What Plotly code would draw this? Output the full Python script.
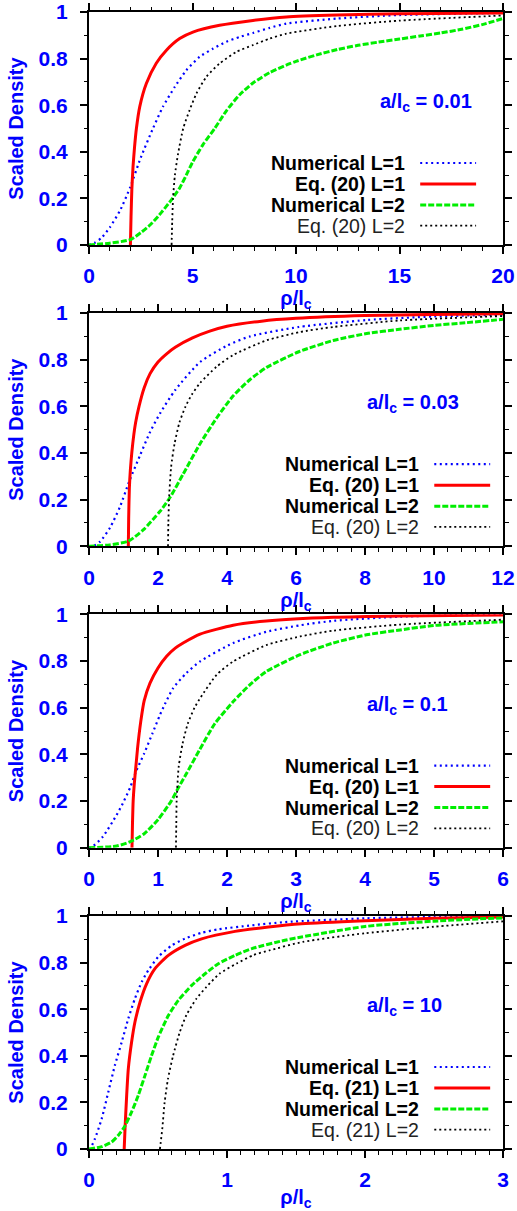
import plotly.graph_objects as go

# ---------------- data ----------------
panel_labels = ["a/l<sub>c</sub> = 0.01", "a/l<sub>c</sub> = 0.03", "a/l<sub>c</sub> = 0.1", "a/l<sub>c</sub> = 10"]
eq_names = ["Eq. (20)", "Eq. (20)", "Eq. (20)", "Eq. (21)"]
x_ranges = [[0, 20], [0, 12], [0, 6], [0, 3]]
x_dticks = [5, 2, 1, 1]
x_minor = [1, 0.4, 0.2, 0.1]

# Panel 1  (a/lc = 0.01)
p1_num1_x = [0, 0.28, 0.6, 1.0, 1.5, 2.0, 2.5, 3.09, 3.57, 4.14, 4.7, 5.35, 6.0, 6.63, 7.28, 7.92, 8.73, 9.53, 12, 15, 20]
p1_num1_y = [0, 0.01, 0.03, 0.075, 0.148, 0.25, 0.375, 0.5, 0.593, 0.678, 0.75, 0.808, 0.843, 0.872, 0.893, 0.91, 0.932, 0.95, 0.972, 0.987, 0.996]
p1_eq1_x = [2.0, 2.03, 2.07, 2.13, 2.2, 2.29, 2.45, 2.77, 3.25, 3.74, 4.38, 5.02, 6.31, 7.92, 9.53, 12, 15, 20]
p1_eq1_y = [0, 0.12, 0.24, 0.34, 0.42, 0.5, 0.593, 0.693, 0.78, 0.836, 0.886, 0.914, 0.943, 0.964, 0.979, 0.987, 0.992, 0.996]
p1_num2_x = [0, 1, 2, 2.52, 3, 3.5, 4, 4.38, 4.7, 5.0, 5.5, 6.07, 6.63, 7.28, 7.92, 8.73, 9.53, 10, 11, 12, 13, 14, 15, 16, 17, 18, 19, 20]
p1_num2_y = [0, 0.008, 0.023, 0.054, 0.09, 0.14, 0.196, 0.245, 0.3, 0.355, 0.43, 0.5, 0.575, 0.645, 0.695, 0.74, 0.772, 0.788, 0.816, 0.839, 0.857, 0.871, 0.884, 0.897, 0.91, 0.926, 0.946, 0.972]
p1_eq2_x = [3.99, 4.02, 4.06, 4.15, 4.3, 4.55, 4.86, 5.19, 5.67, 6.31, 7.12, 7.92, 8.73, 9.53, 12, 15, 20]
p1_eq2_y = [0, 0.1, 0.2, 0.3, 0.39, 0.5, 0.579, 0.65, 0.722, 0.779, 0.829, 0.858, 0.886, 0.907, 0.94, 0.963, 0.985]

# Panel 2  (a/lc = 0.03)
p2_num1_x = [0, 0.12, 0.32, 0.61, 0.9, 1.17, 1.48, 1.77, 2.06, 2.5, 3.22, 4, 4.67, 6.08, 8.05, 10, 12]
p2_num1_y = [0, 0.0, 0.02, 0.08, 0.17, 0.28, 0.39, 0.49, 0.57, 0.67, 0.79, 0.86, 0.9, 0.94, 0.97, 0.985, 0.993]
p2_eq1_x = [1.14, 1.15, 1.17, 1.2, 1.24, 1.3, 1.35, 1.45, 1.6, 1.77, 2.0, 2.25, 2.5, 3.0, 3.5, 4.0, 5.0, 6.0, 8.0, 10, 12]
p2_eq1_y = [0, 0.12, 0.25, 0.33, 0.4, 0.48, 0.53, 0.6, 0.68, 0.74, 0.79, 0.825, 0.853, 0.893, 0.922, 0.943, 0.965, 0.977, 0.989, 0.994, 0.997]
p2_num2_x = [0, 0.6, 1.14, 1.57, 2.06, 2.35, 2.73, 3.22, 3.7, 4.18, 4.67, 5.15, 6.1, 7.08, 8.05, 9.0, 10.0, 10.9, 12]
p2_num2_y = [0, 0.006, 0.022, 0.07, 0.15, 0.21, 0.31, 0.44, 0.55, 0.645, 0.715, 0.767, 0.835, 0.882, 0.912, 0.93, 0.947, 0.958, 0.973]
p2_eq2_x = [2.29, 2.3, 2.32, 2.38, 2.48, 2.62, 2.8, 2.98, 3.22, 3.7, 4.18, 5.15, 6.1, 7.08, 9.0, 12]
p2_eq2_y = [0, 0.1, 0.2, 0.34, 0.44, 0.53, 0.6, 0.65, 0.7, 0.77, 0.82, 0.883, 0.918, 0.94, 0.968, 0.987]

# Panel 3  (a/lc = 0.1)
p3_num1_x = [0, 0.03, 0.2, 0.4, 0.49, 0.6, 0.68, 0.8, 0.92, 1.03, 1.1, 1.22, 1.41, 1.61, 2.09, 2.57, 3.06, 3.54, 4.51, 6]
p3_num1_y = [0, 0.0, 0.047, 0.14, 0.19, 0.26, 0.326, 0.404, 0.49, 0.57, 0.615, 0.684, 0.748, 0.798, 0.877, 0.925, 0.953, 0.972, 0.99, 0.999]
p3_eq1_x = [0.623, 0.63, 0.64, 0.657, 0.68, 0.705, 0.75, 0.8, 0.884, 1.0, 1.125, 1.25, 1.37, 1.61, 2.09, 2.57, 3.54, 4.5, 6]
p3_eq1_y = [0, 0.1, 0.2, 0.276, 0.35, 0.43, 0.54, 0.63, 0.705, 0.77, 0.82, 0.855, 0.878, 0.915, 0.953, 0.971, 0.987, 0.993, 0.997]
p3_num2_x = [0, 0.4, 0.6, 0.8, 1.0, 1.2, 1.29, 1.4, 1.6, 1.82, 2.09, 2.33, 2.57, 3.06, 3.54, 4.02, 4.51, 5.0, 6]
p3_num2_y = [0, 0.007, 0.026, 0.06, 0.12, 0.204, 0.254, 0.311, 0.418, 0.53, 0.626, 0.698, 0.755, 0.827, 0.877, 0.912, 0.933, 0.952, 0.968]
p3_eq2_x = [1.26, 1.265, 1.27, 1.3, 1.357, 1.43, 1.53, 1.62, 1.85, 2.09, 2.57, 3.06, 3.54, 4.51, 6]
p3_eq2_y = [0, 0.1, 0.2, 0.347, 0.447, 0.53, 0.6, 0.645, 0.741, 0.798, 0.868, 0.905, 0.93, 0.956, 0.977]

# Panel 4  (a/lc = 10)
p4_num1_x = [0, 0.007, 0.043, 0.092, 0.14, 0.188, 0.237, 0.285, 0.333, 0.382, 0.43, 0.502, 0.6, 0.696, 0.816, 0.937, 1.18, 1.42, 2.0, 2.5, 3.0]
p4_num1_y = [0, 0.0, 0.044, 0.13, 0.245, 0.36, 0.459, 0.56, 0.646, 0.717, 0.767, 0.825, 0.874, 0.903, 0.928, 0.943, 0.96, 0.974, 0.99, 0.996, 0.999]
p4_eq1_x = [0.255, 0.261, 0.273, 0.285, 0.309, 0.333, 0.37, 0.418, 0.478, 0.575, 0.696, 0.816, 1.058, 1.3, 1.54, 2.0, 2.5, 3.0]
p4_eq1_y = [0, 0.087, 0.23, 0.345, 0.46, 0.545, 0.631, 0.71, 0.774, 0.831, 0.874, 0.902, 0.934, 0.953, 0.967, 0.98, 0.99, 0.996]
p4_num2_x = [0, 0.092, 0.164, 0.213, 0.256, 0.309, 0.357, 0.406, 0.454, 0.502, 0.575, 0.647, 0.744, 0.841, 0.937, 1.058, 1.18, 1.42, 1.54, 2.0, 2.5, 3.0]
p4_num2_y = [0, 0.01, 0.03, 0.059, 0.094, 0.159, 0.23, 0.316, 0.402, 0.48, 0.573, 0.638, 0.702, 0.752, 0.795, 0.831, 0.86, 0.896, 0.91, 0.955, 0.978, 0.992]
p4_eq2_x = [0.514, 0.52, 0.531, 0.548, 0.572, 0.609, 0.657, 0.705, 0.778, 0.85, 0.947, 1.07, 1.19, 1.31, 1.55, 2.0, 2.5, 3.0]
p4_eq2_y = [0, 0.03, 0.087, 0.2, 0.3, 0.4, 0.5, 0.574, 0.645, 0.695, 0.753, 0.796, 0.832, 0.853, 0.889, 0.926, 0.954, 0.977]

panels = [
    (p1_num1_x, p1_num1_y, p1_eq1_x, p1_eq1_y, p1_num2_x, p1_num2_y, p1_eq2_x, p1_eq2_y),
    (p2_num1_x, p2_num1_y, p2_eq1_x, p2_eq1_y, p2_num2_x, p2_num2_y, p2_eq2_x, p2_eq2_y),
    (p3_num1_x, p3_num1_y, p3_eq1_x, p3_eq1_y, p3_num2_x, p3_num2_y, p3_eq2_x, p3_eq2_y),
    (p4_num1_x, p4_num1_y, p4_eq1_x, p4_eq1_y, p4_num2_x, p4_num2_y, p4_eq2_x, p4_eq2_y),
]

# ---------------- styling ----------------
W, H = 517, 1211
ML, MR, MT, MB = 89, 14, 12, 62
BLUE = "#0000ff"
FONT = "Liberation Sans, Arial, sans-serif"
styles = [
    dict(color="#0000ff", width=2.2, dash="2px,3.5px"),   # Numerical L=1
    dict(color="#ff0000", width=3, dash="solid"),         # Eq L=1
    dict(color="#00ee00", width=3, dash="6px,2px"),       # Numerical L=2
    dict(color="#000000", width=1.8, dash="2px,3px"),     # Eq L=2
]
# panel pixel extents (top, bottom) in page pixels
panel_px = [(12, 245), (313, 546.3), (614.3, 847.7), (916, 1149)]
plot_h = H - MT - MB

fig = go.Figure()
for i, pdata in enumerate(panels):
    ax = "" if i == 0 else str(i + 1)
    for k in range(4):
        xs, ys = pdata[2 * k], pdata[2 * k + 1]
        st = styles[k]
        fig.add_trace(go.Scatter(
            x=xs, y=ys, mode="lines", xaxis="x" + ax, yaxis="y" + ax,
            line=dict(color=st["color"], width=st["width"], dash=st["dash"], shape="spline", smoothing=0.6),
            showlegend=False, hoverinfo="skip"))
    top, bot = panel_px[i]
    dom = [(H - MB - bot) / plot_h, (H - MB - top) / plot_h]
    dom = [max(0.0, min(1.0, d)) for d in dom]
    common_axis = dict(
        showline=True, linecolor="black", linewidth=2, mirror="allticks",
        ticks="outside", ticklen=7, tickwidth=1.5, tickcolor="black",
        showgrid=False, zeroline=False, automargin=False, ticklabeloverflow="allow",
        tickfont=dict(family=FONT, size=21, color=BLUE, weight="bold"),
    )
    fig.layout["xaxis" + ax] = dict(
        common_axis, domain=[0, 1], range=x_ranges[i], dtick=x_dticks[i], tick0=0,
        anchor="y" + ax, ticklabelstandoff=4,
        minor=dict(dtick=x_minor[i], ticks="outside", ticklen=3.5, tickwidth=1.2, tickcolor="black", showgrid=False),
        title=dict(text="ρ/l<sub>c</sub>", standoff=0,
                   font=dict(family=FONT, size=20, color=BLUE, weight="bold")),
    )
    fig.layout["yaxis" + ax] = dict(
        common_axis, domain=dom, range=[0, 1], dtick=0.2, tick0=0,
        anchor="x" + ax, ticklabelstandoff=8,
        minor=dict(dtick=0.1, ticks="outside", ticklen=3.5, tickwidth=1.2, tickcolor="black", showgrid=False),
        title=dict(text="Scaled Density", standoff=10,
                   font=dict(family=FONT, size=20, color=BLUE, weight="bold")),
    )
    xd = "x" + ax + " domain"
    yd = "y" + ax + " domain"
    # panel label
    fig.add_annotation(xref=xd, yref=yd, x=0.698 if i == 0 else 0.667, y=0.61,
                       xanchor="left", yanchor="middle", showarrow=False,
                       text=panel_labels[i],
                       font=dict(family=FONT, size=20, color=BLUE, weight="bold"))
    # legend
    names = ["Numerical L=1", eq_names[i] + " L=1", "Numerical L=2", eq_names[i] + " L=2"]
    text_x = 0.768 if i == 0 else 0.802
    l0, l1 = (0.8, 0.935) if i == 0 else (0.834, 0.969)
    rows = [0.352, 0.262, 0.172, 0.083]
    for k in range(4):
        fig.add_annotation(xref=xd, yref=yd, x=text_x, y=rows[k], xanchor="right", yanchor="middle",
                           showarrow=False, text=names[k],
                           font=dict(family=FONT, size=19.5, color="#000000" if k < 3 else "#222222",
                                     weight="bold" if k < 3 else "normal"))
        st = styles[k]
        fig.add_shape(type="line", xref=xd, yref=yd, x0=l0, x1=l1, y0=rows[k], y1=rows[k],
                      line=dict(color=st["color"], width=st["width"], dash=st["dash"]))

fig.update_layout(
    width=W, height=H, margin=dict(l=ML, r=MR, t=MT, b=MB, autoexpand=False),
    paper_bgcolor="white", plot_bgcolor="white", showlegend=False,
    font=dict(family=FONT),
)
# remove the default 8px page margin so the figure fills the window exactly
fig.write_html("out.html", config=dict(displayModeBar=False),
               post_script="document.body.style.margin='0px';document.body.style.overflow='hidden';")
